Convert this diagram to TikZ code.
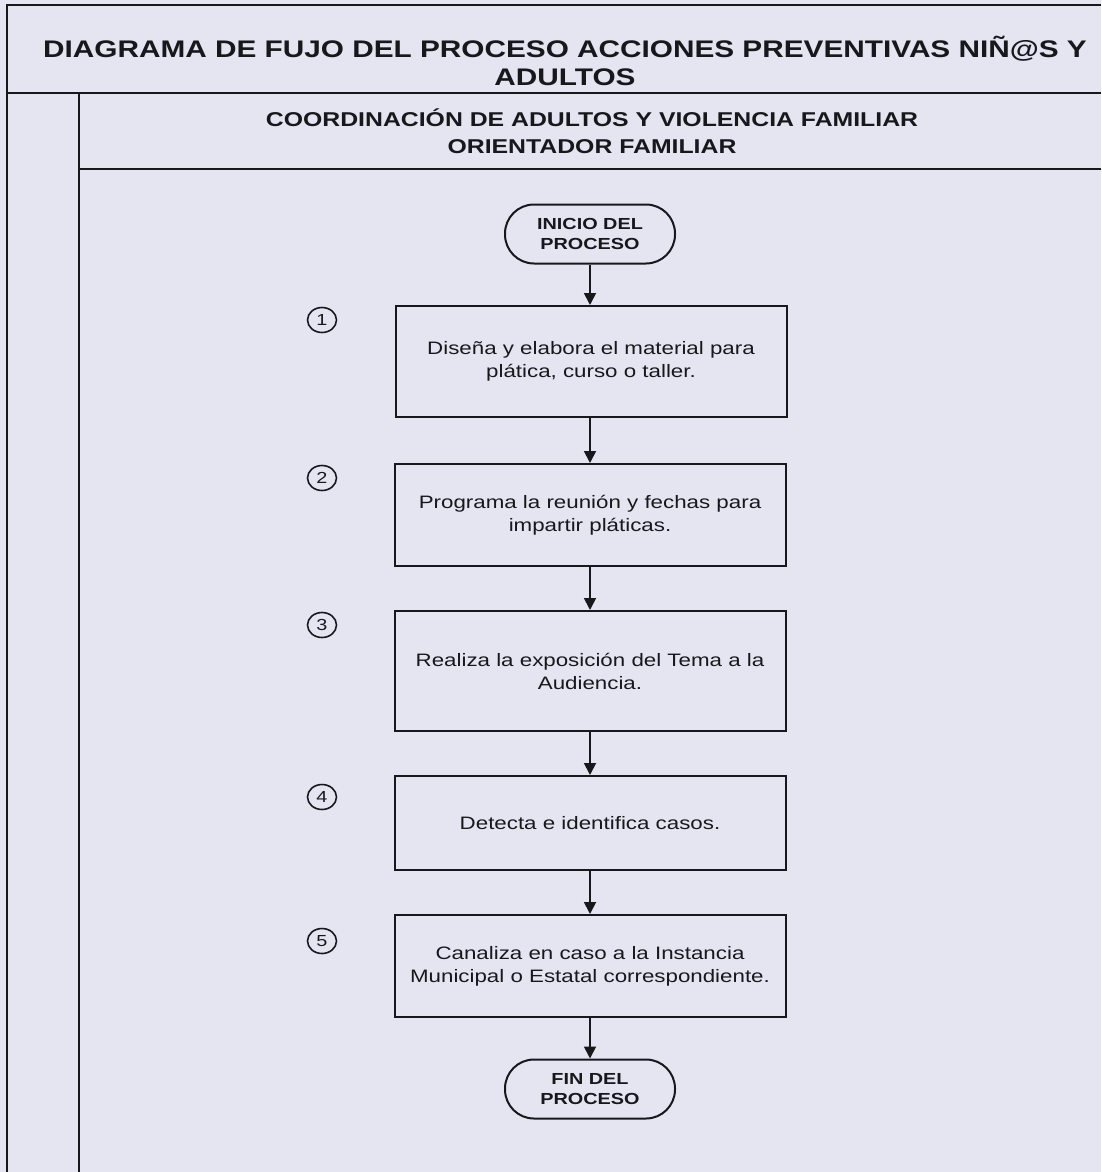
\documentclass[tikz,border=0pt]{standalone}
\usepackage{fontspec}
\setmainfont{Liberation Sans}[FakeStretch=1.24]
\usetikzlibrary{arrows.meta,shapes.geometric}
\definecolor{bg}{RGB}{228,229,241}
\definecolor{ink}{RGB}{24,24,28}
\begin{document}
\begin{tikzpicture}[x=1pt,y=-1pt,
  frame/.style={draw=ink,line width=2pt},
  stepbox/.style={draw=ink,line width=2pt,minimum width=391pt,inner sep=0pt,align=center,font=\fontsize{18}{23}\selectfont,text=ink},
  term/.style={draw=ink,line width=2pt,rounded corners=29pt,minimum width=170pt,minimum height=59pt,align=center,font=\bfseries\fontsize{16}{20}\selectfont,text=ink,inner sep=0pt},
  num/.style={draw=ink,line width=1.6pt,ellipse,minimum width=29pt,minimum height=25pt,inner sep=0pt,font=\fontsize{16}{16}\selectfont,text=ink},
  flow/.style={draw=ink,line width=1.8pt,-{Triangle[width=12pt,length=12pt]}},
  head/.style={align=center,text=ink,inner sep=0pt}]
\fill[bg] (0,0) rectangle (1101,1172);
\useasboundingbox (0,0) rectangle (1101,1172);
% frame
\draw[frame] (1101,5) -- (7,5) -- (7,1172);
\draw[frame] (7,93) -- (1101,93);
\draw[frame] (79,93) -- (79,1172);
\draw[frame] (79,169) -- (1101,169);
% headings
\node[head,font=\bfseries\fontsize{24}{28}\selectfont] (title) at (565,61)
  {DIAGRAMA DE FUJO DEL PROCESO ACCIONES PREVENTIVAS NIÑ@S Y\\ADULTOS};
\node[head,font=\bfseries\fontsize{20}{27}\selectfont] (sub) at (592,131)
  {COORDINACIÓN DE ADULTOS Y VIOLENCIA FAMILIAR\\ORIENTADOR FAMILIAR};
% flow
\node[term] (start) at (590,234) {INICIO DEL\\PROCESO};
\node[stepbox,minimum height=111pt] (b1) at (591,361.5) {Diseña y elabora el material para\\plática, curso o taller.};
\node[stepbox,minimum height=102pt] (b2) at (590,515) {Programa la reunión y fechas para\\impartir pláticas.};
\node[stepbox,minimum height=120pt] (b3) at (590,671) {Realiza la exposición del Tema a la\\Audiencia.};
\node[stepbox,minimum height=94pt] (b4) at (590,823) {Detecta e identifica casos.};
\node[stepbox,minimum height=102pt] (b5) at (590,966) {Canaliza en caso a la Instancia\\Municipal o Estatal correspondiente.};
\node[term] (end) at (590,1089) {FIN DEL\\PROCESO};
% numbers
\node[num] (n1) at (322,320) {1};
\node[num] (n2) at (322,478) {2};
\node[num] (n3) at (322,625) {3};
\node[num] (n4) at (322,797) {4};
\node[num] (n5) at (322,941) {5};
% connectors
\draw[flow] (start.south) -- (start.south |- b1.north);
\draw[flow] (b1.south -| start.south) -- (start.south |- b2.north);
\draw[flow] (b2.south -| start.south) -- (start.south |- b3.north);
\draw[flow] (b3.south -| start.south) -- (start.south |- b4.north);
\draw[flow] (b4.south -| start.south) -- (start.south |- b5.north);
\draw[flow] (b5.south -| start.south) -- (end.north);
\end{tikzpicture}
\end{document}
